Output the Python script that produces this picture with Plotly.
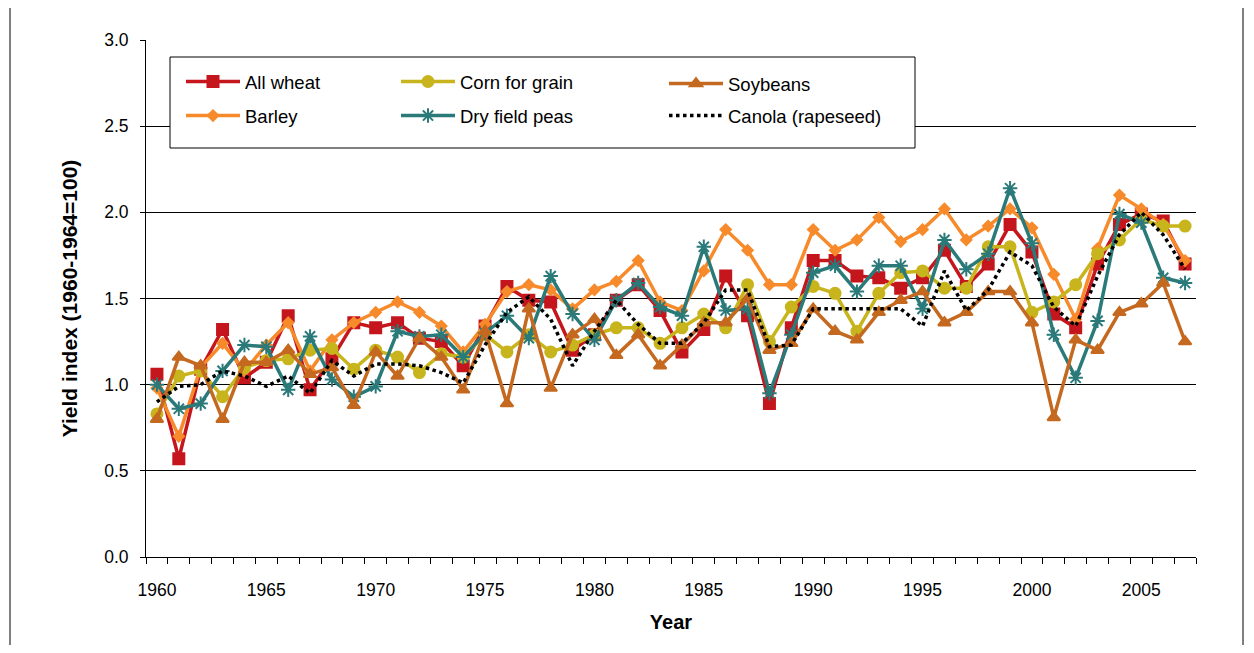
import plotly.graph_objects as go

years = list(range(1960, 2008))

all_wheat = [1.06, 0.57, 1.09, 1.32, 1.04, 1.13, 1.40, 0.97, 1.15, 1.36, 1.33, 1.36,
             1.27, 1.25, 1.11, 1.34, 1.57, 1.49, 1.48, 1.20, 1.29, 1.49, 1.58, 1.43,
             1.19, 1.32, 1.63, 1.40, 0.89, 1.33, 1.72, 1.72, 1.63, 1.62, 1.56, 1.62,
             1.78, 1.57, 1.70, 1.93, 1.77, 1.41, 1.33, 1.70, 1.93, 1.99, 1.95, 1.70]
barley = [0.98, 0.70, 1.10, 1.24, 1.08, 1.23, 1.36, 1.08, 1.26, 1.36, 1.42, 1.48,
          1.42, 1.34, 1.19, 1.35, 1.54, 1.58, 1.55, 1.44, 1.55, 1.60, 1.72, 1.48,
          1.43, 1.66, 1.90, 1.78, 1.58, 1.58, 1.90, 1.78, 1.84, 1.97, 1.83, 1.90,
          2.02, 1.84, 1.92, 2.02, 1.91, 1.64, 1.38, 1.79, 2.10, 2.02, 1.93, 1.72]
corn = [0.83, 1.05, 1.08, 0.93, 1.10, 1.14, 1.15, 1.20, 1.21, 1.09, 1.20, 1.16,
        1.07, 1.18, 1.16, 1.29, 1.19, 1.29, 1.19, 1.23, 1.29, 1.33, 1.33, 1.24,
        1.33, 1.41, 1.33, 1.58, 1.25, 1.45, 1.57, 1.53, 1.31, 1.53, 1.65, 1.66,
        1.56, 1.56, 1.80, 1.80, 1.42, 1.48, 1.58, 1.76, 1.84, 1.96, 1.92, 1.92]
dry_peas = [1.00, 0.86, 0.89, 1.08, 1.23, 1.22, 0.97, 1.28, 1.03, 0.93, 0.99, 1.31,
            1.28, 1.29, 1.16, 1.30, 1.40, 1.27, 1.63, 1.41, 1.26, 1.49, 1.59, 1.45,
            1.40, 1.80, 1.43, 1.44, 0.95, 1.29, 1.65, 1.69, 1.54, 1.69, 1.69, 1.44,
            1.84, 1.67, 1.76, 2.14, 1.82, 1.29, 1.04, 1.37, 1.99, 1.94, 1.62, 1.59]
soybeans = [0.80, 1.16, 1.11, 0.80, 1.13, 1.13, 1.20, 1.06, 1.10, 0.88, 1.19, 1.05,
            1.27, 1.16, 0.97, 1.31, 0.89, 1.44, 0.98, 1.29, 1.38, 1.17, 1.29, 1.11,
            1.23, 1.36, 1.36, 1.50, 1.20, 1.24, 1.44, 1.31, 1.26, 1.42, 1.49, 1.54,
            1.36, 1.42, 1.54, 1.54, 1.36, 0.81, 1.26, 1.20, 1.42, 1.47, 1.59, 1.25]
canola = [0.90, 0.99, 1.00, 1.08, 1.05, 0.99, 1.05, 0.95, 1.14, 1.05, 1.12, 1.12,
          1.11, 1.07, 1.01, 1.23, 1.42, 1.51, 1.38, 1.11, 1.31, 1.49, 1.35, 1.24,
          1.24, 1.36, 1.55, 1.55, 1.22, 1.23, 1.44, 1.44, 1.44, 1.44, 1.44, 1.34,
          1.66, 1.43, 1.55, 1.77, 1.69, 1.45, 1.34, 1.63, 1.87, 2.00, 1.87, 1.67]

x_tick_labels = ["1960", "1965", "1970", "1975", "1980", "1985", "1990", "1995", "2000", "2005"]
x_tick_vals = [int(t) for t in x_tick_labels]
y_tick_vals = [0.0, 0.5, 1.0, 1.5, 2.0, 2.5, 3.0]

FONT = "Liberation Sans, Arial, sans-serif"

series = [
    # name, data, color, symbol, size, dash, legend
    ("All wheat", all_wheat, "#C4161C", "square", 11, "solid", "legend"),
    ("Barley", barley, "#F78A2B", "diamond", 8, "solid", "legend2"),
    ("Corn for grain", corn, "#C8B41C", "circle", 11, "solid", "legend3"),
    ("Dry field peas", dry_peas, "#2B7A7A", "asterisk-open", 12, "solid", "legend4"),
    ("Soybeans", soybeans, "#C4691F", "triangle-up", 11, "solid", "legend5"),
    ("Canola (rapeseed)", canola, "#000000", None, 0, "dot", "legend6"),
]

fig = go.Figure()
for name, data, color, symbol, size, dash, leg in series:
    if symbol is None:
        fig.add_trace(go.Scatter(x=years, y=data, name=name, mode="lines",
                                 line=dict(color=color, width=3.5, dash=dash),
                                 legend=leg))
    else:
        fig.add_trace(go.Scatter(x=years, y=data, name=name, mode="lines+markers",
                                 line=dict(color=color, width=3.5, dash=dash),
                                 marker=dict(symbol=symbol, size=size, color=color,
                                             line=dict(color=color, width=2)),
                                 legend=leg))

# page body has an 8px margin; screen-pixel layout targets below
OFF = 8
SW, SH = 1254, 653
W, H = SW - 2 * OFF, SH - 2 * OFF
L, R, T, B = 146, 1196, 40, 557          # plot area in screen pixels
pw, ph = R - L, B - T

def px(x):
    return (x - L) / pw

def py(y):
    return (B - y) / ph

leg_common = dict(bgcolor="rgba(0,0,0,0)", borderwidth=0, xanchor="left", yanchor="middle",
                  font=dict(family=FONT, size=18.5, color="#000000"), itemwidth=54)
legend_pos = {
    "legend": (181, 82), "legend2": (181, 116),
    "legend3": (396, 82), "legend4": (396, 116),
    "legend5": (664, 84), "legend6": (664, 116),
}
layout_legends = {k: dict(x=px(v[0]), y=py(v[1]), **leg_common) for k, v in legend_pos.items()}

fig.update_layout(
    width=W, height=H,
    margin=dict(l=L - OFF, r=(OFF + W) - R, t=T - OFF, b=(OFF + H) - B, pad=0),
    paper_bgcolor="white", plot_bgcolor="white",
    font=dict(family=FONT, size=17, color="#000000"),
    showlegend=True,
    xaxis=dict(
        range=[1959.5, 2007.5],
        tickmode="array", tickvals=x_tick_vals, ticktext=x_tick_labels,
        ticks="", showgrid=False, zeroline=False,
        showline=True, linecolor="#000000", linewidth=1,
        tickfont=dict(family=FONT, size=17.5, color="#000000"),
        ticklabelstandoff=17,
        minor=dict(ticks="outside", tick0=1959.5, dtick=1, ticklen=6,
                   tickcolor="#000000", tickwidth=1, showgrid=False),
        title=dict(text="<b>Year</b>", font=dict(family=FONT, size=20, color="#000000"), standoff=15),
    ),
    yaxis=dict(
        range=[0, 3.0],
        tickmode="array", tickvals=y_tick_vals, tickformat=".1f",
        ticks="outside", ticklen=5, tickcolor="#000000",
        showgrid=True, gridcolor="#000000", gridwidth=1,
        zeroline=False, showline=True, linecolor="#000000", linewidth=1,
        tickfont=dict(family=FONT, size=17.5, color="#000000"),
        ticklabelstandoff=8,
        title=dict(text="<b>Yield index (1960-1964=100)</b>",
                   font=dict(family=FONT, size=21, color="#000000"), standoff=20),
    ),
    shapes=[
        dict(type="rect", xref="paper", yref="paper",
             x0=px(170), x1=px(915), y0=py(148), y1=py(57),
             line=dict(color="#000000", width=1), fillcolor="white", layer="above"),
        dict(type="line", xref="paper", yref="paper",
             x0=px(10), x1=px(10), y0=py(0), y1=py(653),
             line=dict(color="#000000", width=1)),
        dict(type="line", xref="paper", yref="paper",
             x0=px(1243), x1=px(1243), y0=py(0), y1=py(653),
             line=dict(color="#000000", width=1)),
    ],
    **layout_legends,
)

fig.write_html("out.html")
